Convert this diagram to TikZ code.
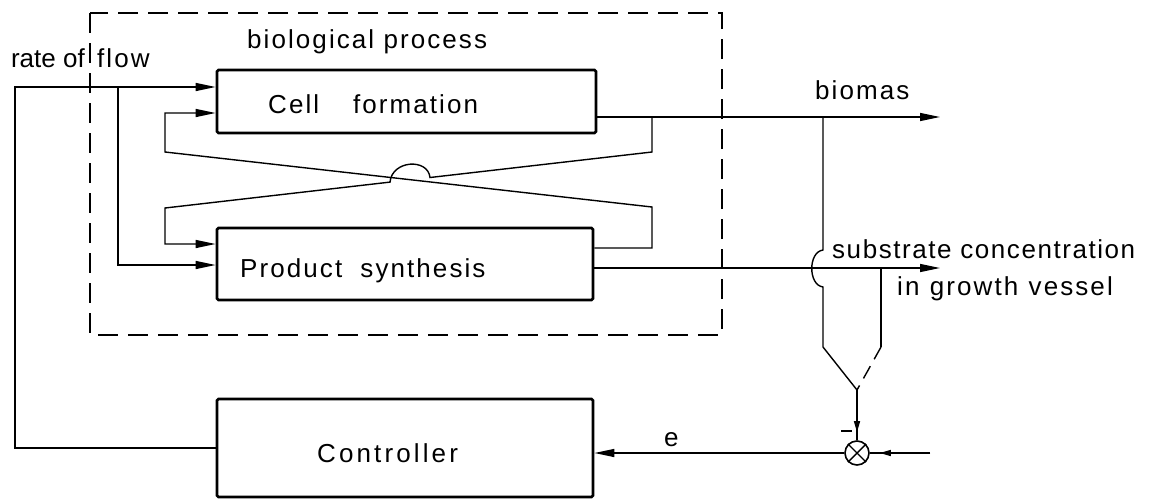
\documentclass[tikz,border=0pt]{standalone}
\usepackage{fontspec}
\setmainfont{Liberation Sans}[LetterSpace=8.0]
\usetikzlibrary{arrows.meta,calc}
\begin{document}
\begin{tikzpicture}[x=1pt,y=-1pt,
  conn/.style={line width=1.4pt},
  blockbox/.style={draw,line width=2.8pt,rounded corners=1.5pt,inner sep=0pt},
  lbl/.style={anchor=base west,inner sep=0pt,font=\fontsize{26}{30}\selectfont},
  tip/.style={-{Triangle[length=20pt,width=8pt]}},
  smalltip/.style={-{Triangle[length=11pt,width=6pt]}},
  frame/.style={line width=1.4pt,dash pattern=on 20pt off 10pt}]
\useasboundingbox (0,0) rectangle (1151,501);
% blocks
\node[blockbox,minimum width=379pt,minimum height=63pt] (cf) at (406.5,101.5) {};
\node[blockbox,minimum width=376pt,minimum height=72pt] (ps) at (405,264) {};
\node[blockbox,minimum width=376pt,minimum height=98pt] (ctl) at (405,448) {};
\node[draw,circle,line width=1.6pt,minimum size=24pt,inner sep=0pt] (cmp) at (857,453) {};
\draw[line width=1.4pt] (cmp.north west) -- (cmp.south east) (cmp.north east) -- (cmp.south west);
% texts
\node[lbl] (tbio) at (247,48) {biological process};
\node[lbl,anchor=base east] (trate) at (85,67) {\addfontfeature{LetterSpace=0}rate of};
\node[lbl] (tflow) at (97,67) {flow};
\node[lbl] (tcf) at (268,113) {Cell\hspace{1.3em}formation};
\node[lbl] (tps) at (240,277) {Product\hspace{0.7em}synthesis};
\node[lbl] (tbm) at (815,99) {biomas};
\node[lbl] (tsub) at (832,258) {\addfontfeature{LetterSpace=6}substrate concentration};
\node[lbl] (tgv) at (897,295) {in\hspace{0.4em}growth\hspace{0.4em}vessel};
\node[lbl] (tctl) at (317,462) {\addfontfeature{LetterSpace=12}Controller};
\node[lbl] (te) at (664,446) {e};
% dashed process frame
\coordinate (fa) at (90,13);
\coordinate (fb) at (722,335);
\draw[frame] (fa) rectangle (fb);
% coordinates
\coordinate (rf) at (15,87);
\coordinate (rb) at (118,87);
\coordinate (fbR1) at (652,248);
\coordinate (fbR2) at (652,207);
\coordinate (fbL1) at (165,152);
\coordinate (fbL2) at (165,113);
\coordinate (bR1) at (652,117);
\coordinate (bR2) at (652,152);
\coordinate (hr) at (430,177.5);
\coordinate (hl) at (390,182.1);
\coordinate (bL1) at (165,208);
\coordinate (bL2) at (165,244);
\coordinate (bioend) at (940,117);
\coordinate (subend) at (940,268);
\coordinate (m1) at (823,117);
\coordinate (m2) at (823,250);
\coordinate (m3) at (823,287);
\coordinate (m4) at (823,347);
\coordinate (n1) at (881,268);
\coordinate (n2) at (881,347);
\coordinate (jn) at (857,390);
\coordinate (rin) at (930,453);
\coordinate (mi1) at (841,431);
\coordinate (mi2) at (852,431);
% rate of flow
\draw[conn,tip] (ctl.west) -| (rf) -- (rf -| cf.west);
\draw[conn,tip] (rb) |- (ps.west |- 0,265);
% feedback product synthesis -> cell formation
\draw[conn,tip] (ps.east |- fbR1) -- (fbR1) -- (fbR2) -- (fbL1) -- (fbL2) -- (cf.west |- fbL2);
% feedback cell formation -> product synthesis, with hop
\draw[conn,tip] (bR1) -- (bR2) -- (hr) .. controls (428,158) and (392,160) .. (hl) -- (bL1) -- (bL2) -- (ps.west |- bL2);
% outputs
\draw[conn,tip] (cf.east |- bioend) -- (bioend);
\draw[conn,tip] (ps.east |- subend) -- (subend);
% measurement
\draw[conn] (m1) -- (m2) .. controls (808,252) and (808,285) .. (m3) -- (m4) -- (jn);
\draw[conn] (n1) -- (n2);
\draw[conn,dash pattern=on 14pt off 8pt] (n2) -- (jn);
\draw[conn] (jn) -- (cmp.north);
\draw[conn,smalltip,shorten >=8pt] (jn) -- (cmp.north);
\draw[conn] (mi1) -- (mi2);
\draw[conn] (rin) -- (cmp.east);
\draw[conn,smalltip,shorten >=10pt] (rin) -- (cmp.east);
\draw[conn,tip] (cmp.west) -- (cmp.west -| ctl.east);
\end{tikzpicture}
\end{document}
